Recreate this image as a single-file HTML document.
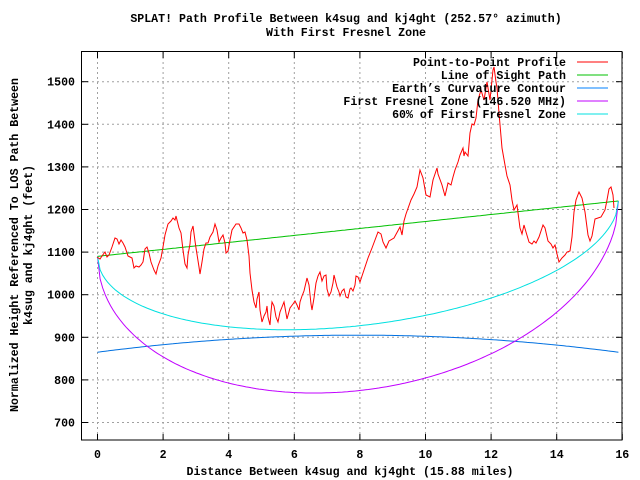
<!DOCTYPE html>
<html><head><meta charset="utf-8"><style>
body{margin:0;background:#fff}
svg{display:block}
text{font-family:"Liberation Mono",monospace;font-weight:bold;font-size:11.6px;fill:#000}
</style></head><body>
<svg id="s" width="640" height="480" xmlns="http://www.w3.org/2000/svg">
<rect width="640" height="480" fill="#fff"/>
<g id="grid" stroke="#a0a0a0" stroke-dasharray="2,3" stroke-width="1"></g>
<g id="ticks" stroke="#000" stroke-width="1"></g>
<g id="curves" fill="none" stroke-width="1"></g>
<polyline fill="none" stroke="#ff0000" stroke-width="1" points="97,257 100,259 102,256 105,252 107,257 109,255 112,247 115,238 117,239 119,244 121,240 123,243 125,247 128,256 132,258 134,268 136,266 139,267 141,265 143,262 145,249 147,247 149,253 151,262 154,270 156,274 158,266 161,258 163,247 165,235 168,224 171,221 173,218 175,220 176,216 179,228 181,233 183,250 185,264 187,268 188,255 190,244 191,232 193,226 195,241 196,248 199,267 200,274 202,262 204,249 206,243 208,243 210,237 213,232 215,224 217,230 219,242 221,238 223,235 225,243 226,253 228,251 230,240 232,230 236,224 239,224 241,228 243,233 245,232 247,240 249,256 250,273 252,290 254,302 256,308 257,299 259,292 260,310 262,322 264,316 266,312 267,306 268,317 270,325 271,312 272,302 274,306 276,317 278,322 280,312 282,307 284,302 287,319 290,308 293,304 295,301 297,305 299,310 300,302 302,296 304,291 307,278 309,285 311,304 312,310 314,298 316,283 318,276 320,272 322,281 324,276 326,275 327,289 329,296 331,292 333,283 334,275 337,287 339,292 340,296 342,291 344,289 346,297 348,298 350,289 351,288 353,291 355,285 356,276 358,277 360,282 364,270 368,258 372,248 375,240 378,232 381,234 383,242 386,248 389,241 394,238 400,227 402,235 404,221 406,214 411,200 414,194 417,187 420,170 423,178 426,195 430,197 433,180 437,168 438,174 442,185 445,196 448,183 451,185 453,177 455,170 458,162 460,155 463,148 464,156 465,152 468,156 470,133 472,124 474,125 476,118 478,100 481,90 484,100 487,82 490,100 493,70 494,67 496,82 497,88 499,113 502,148 505,165 507,176 510,185 512,200 514,210 517,205 520,228 522,234 524,225 526,232 529,242 532,244 534,241 536,243 539,237 542,228 543,225 545,228 548,241 551,244 553,248 555,245 557,254 559,262 562,258 565,255 567,252 570,251 572,237 574,212 576,200 579,192 582,198 585,212 588,235 590,241 592,236 595,219 598,218 601,217 605,210 607,200 609,189 611,187 613,195 614,208"/>
<rect x="81.5" y="51.5" width="540.5" height="388.5" fill="none" stroke="#000" stroke-width="1"/>
<g id="labels"></g>
<text x="346" y="22" text-anchor="middle">SPLAT! Path Profile Between k4sug and kj4ght (252.57° azimuth)</text>
<text x="346" y="36" text-anchor="middle">With First Fresnel Zone</text>
<text x="350" y="475" text-anchor="middle">Distance Between k4sug and kj4ght (15.88 miles)</text>
<text transform="translate(18,245) rotate(-90)" text-anchor="middle">Normalized Height Referenced To LOS Path Between</text>
<text transform="translate(32,245) rotate(-90)" text-anchor="middle">k4sug and kj4ght (feet)</text>
<g text-anchor="end">
<text x="566" y="66">Point-to-Point Profile</text>
<text x="566" y="79">Line of Sight Path</text>
<text x="566" y="92">Earth’s Curvature Contour</text>
<text x="566" y="105">First Fresnel Zone (146.520 MHz)</text>
<text x="566" y="118">60% of First Fresnel Zone</text>
</g>
<line x1="577" y1="62" x2="608" y2="62" stroke="#ff0000"/>
<line x1="577" y1="75" x2="608" y2="75" stroke="#00c000"/>
<line x1="577" y1="88" x2="608" y2="88" stroke="#0080ff"/>
<line x1="577" y1="101" x2="608" y2="101" stroke="#c000ff"/>
<line x1="577" y1="114" x2="608" y2="114" stroke="#00e0e0"/>
</svg>
<script>
var NS="http://www.w3.org/2000/svg";
function X(d){return 97.5+d*32.8}
function Y(v){return 81.7+(1500-v)*0.426}
function el(p,t,a){var e=document.createElementNS(NS,t);for(var k in a)e.setAttribute(k,a[k]);document.getElementById(p).appendChild(e);return e}
for(var d=0;d<=16;d+=2){var x=X(d).toFixed(1);
 el("grid","line",{x1:x,y1:52,x2:x,y2:440});
 el("ticks","line",{x1:x,y1:440,x2:x,y2:434});el("ticks","line",{x1:x,y1:52,x2:x,y2:58});
 var t=el("labels","text",{x:x,y:458,"text-anchor":"middle"});t.textContent=d;}
for(var v=700;v<=1500;v+=100){var y=Y(v).toFixed(1);
 el("grid","line",{x1:82,y1:y,x2:622,y2:y});
 el("ticks","line",{x1:82,y1:y,x2:88,y2:y});el("ticks","line",{x1:622,y1:y,x2:616,y2:y});
 var t=el("labels","text",{x:75,y:(+y+4),"text-anchor":"end"});t.textContent=v;}
var D=15.88;
function los(d){return 1090+130/D*d}
function path(f,c){var p=[];for(var i=0;i<=200;i++){var d=D*i/200;p.push(X(d).toFixed(1)+","+Y(f(d)).toFixed(1))}el("curves","polyline",{points:p.join(" "),stroke:c})}
path(los,"#00c000");
path(function(d){return 865+0.635*d*(D-d)},"#0070e0");
path(function(d){return los(d)-47.9*Math.sqrt(d*(D-d))},"#c000ff");
path(function(d){return los(d)-0.6*47.9*Math.sqrt(d*(D-d))},"#00e0e0");
</script>
</body></html>
